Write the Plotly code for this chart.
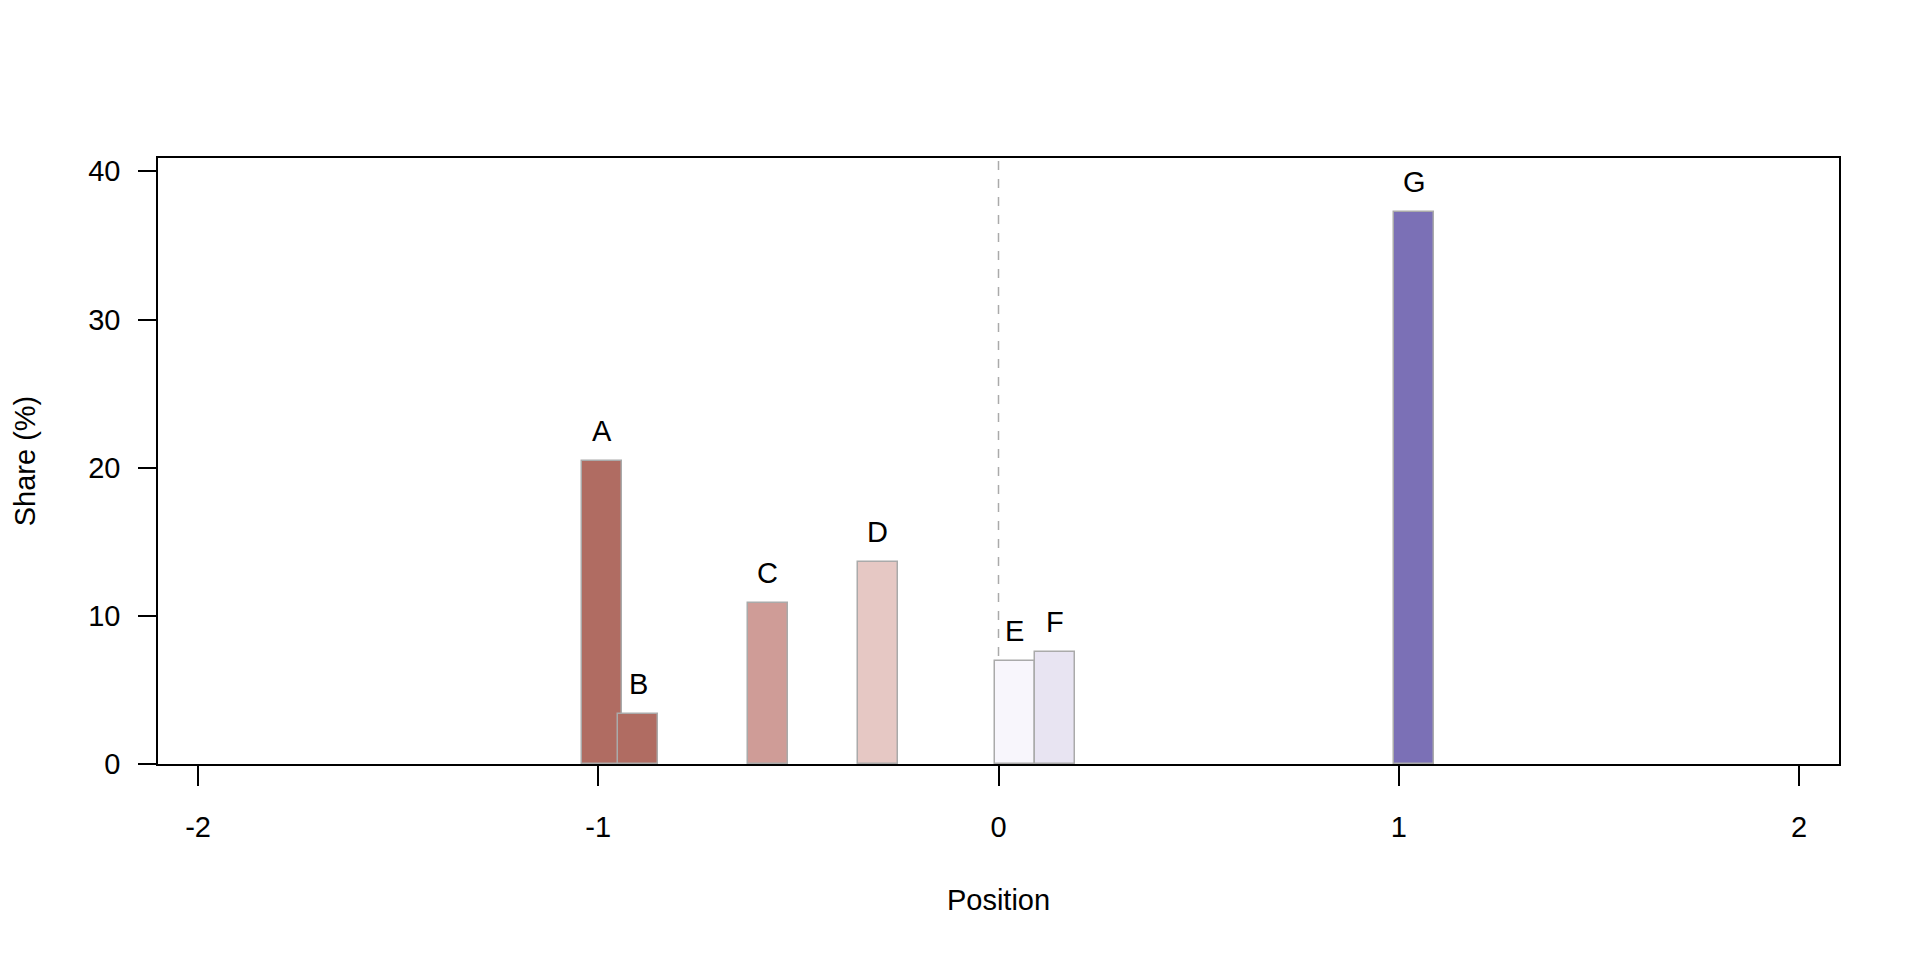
import plotly.graph_objects as go

labels = ["A", "B", "C", "D", "E", "F", "G"]
positions = [-0.99, -0.90, -0.576, -0.302, 0.04, 0.142, 1.039]
shares = [20.45, 3.4, 10.85, 13.66, 6.95, 7.53, 37.25]
colors = ["#B06C62", "#B06C62", "#CF9C97", "#E6C8C4", "#F8F6FC", "#E8E4F2", "#7B70B6"]
x_ticks = [-2, -1, 0, 1, 2]
x_ticktext = ["-2", "-1", "0", "1", "2"]
y_ticks = [0, 10, 20, 30, 40]

font = "Liberation Sans, Arial, sans-serif"
fs = 29

fig = go.Figure()
fig.add_shape(type="line", xref="x", yref="paper", x0=0, x1=0, y0=0, y1=1,
              line=dict(color="#AAAAAA", width=1.5, dash="dash"), layer="below")
fig.add_trace(go.Bar(
    x=positions, y=shares, width=0.1,
    marker=dict(color=colors, line=dict(color="#AAAAAA", width=1.5)),
    showlegend=False, hoverinfo="x+y",
))
for lab, xp, yv in zip(labels, positions, shares):
    fig.add_annotation(x=xp, y=yv, text=lab, showarrow=False, yanchor="bottom",
                       yshift=12, font=dict(family=font, size=fs, color="black"))

fig.update_layout(
    width=1920, height=960,
    margin=dict(l=150, r=89, t=150, b=204),
    plot_bgcolor="white", paper_bgcolor="white",
    font=dict(family=font, size=fs, color="black"),
    bargap=0,
)
fig.update_xaxes(
    range=[-2.1, 2.1], tickmode="array", tickvals=x_ticks, ticktext=x_ticktext,
    ticks="outside", ticklen=20, tickwidth=1.5, tickcolor="black",
    showline=True, linecolor="black", linewidth=1.5, mirror=True,
    showgrid=False, zeroline=False, ticklabelstandoff=16,
    title=dict(text="Position", font=dict(size=fs), standoff=48),
    tickfont=dict(size=fs),
)
fig.update_yaxes(
    range=[0, 40.9], tickmode="array", tickvals=y_ticks,
    ticks="outside", ticklen=18, tickwidth=1.5, tickcolor="black",
    showline=True, linecolor="black", linewidth=1.5, mirror=True,
    showgrid=False, zeroline=False, ticklabelstandoff=12,
    title=dict(text="Share (%)", font=dict(size=fs), standoff=44),
    tickfont=dict(size=fs),
)

fig.write_html("out.html")
